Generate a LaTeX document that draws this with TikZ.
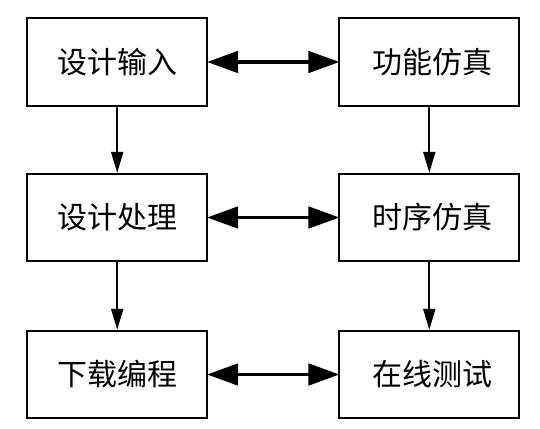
\documentclass[tikz,border=0pt]{standalone}
\usepackage{fontspec}
\newfontfamily\cjk{Noto Sans CJK SC}
\usetikzlibrary{arrows.meta}
\begin{document}
\begin{tikzpicture}[x=1pt,y=-1pt,
  stage/.style={draw, line width=1.8pt, minimum width=180pt, minimum height=87.5pt,
    inner sep=0pt, font=\cjk\fontsize{30}{36}\selectfont, anchor=center},
  flow/.style={line width=1.8pt, -{Triangle[length=21pt,width=12pt]}},
  link/.style={line width=3.3pt, {Triangle[length=31pt,width=21.5pt]}-{Triangle[length=31pt,width=21.5pt]}, shorten <=-1pt, shorten >=-1pt}]
\useasboundingbox (0,0) rectangle (540,428);
\node[stage] (in)  at (117.2,62)    {设计输入};
\node[stage] (fn)  at (429.3,62)    {\hspace*{6pt}功能仿真};
\node[stage] (pr)  at (117.2,217.5) {设计处理};
\node[stage] (ts)  at (429.3,217.5) {\hspace*{6pt}时序仿真};
\node[stage] (dl)  at (117.2,374.5) {下载编程};
\node[stage] (ot)  at (429.3,374.5) {\hspace*{6pt}在线测试};
\draw[flow] (in) -- (pr);
\draw[flow] (pr) -- (dl);
\draw[flow] (fn) -- (ts);
\draw[flow] (ts) -- (ot);
\draw[link] (in) -- (fn);
\draw[link] (pr) -- (ts);
\draw[link] (dl) -- (ot);
\end{tikzpicture}
\end{document}
